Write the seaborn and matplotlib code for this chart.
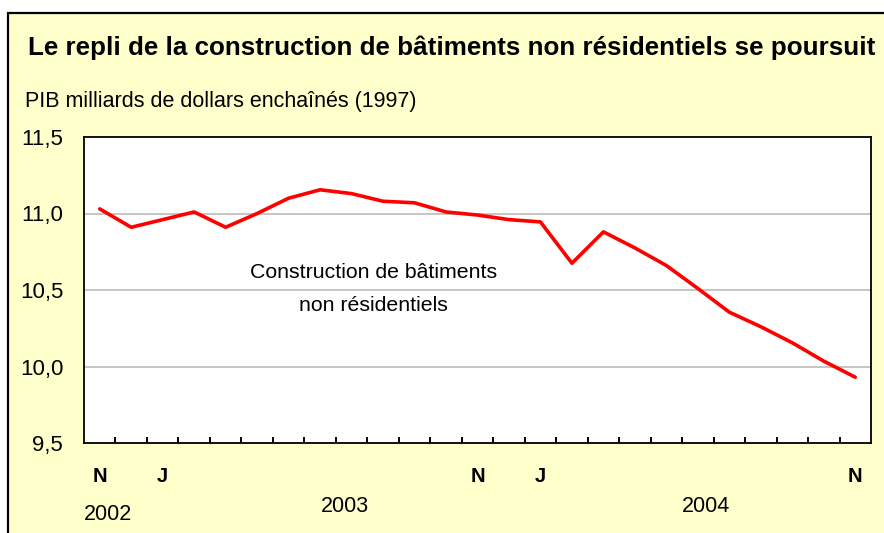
import matplotlib
matplotlib.use("Agg")
import matplotlib.pyplot as plt
import seaborn as sns
import pandas as pd
from matplotlib.patches import Rectangle

# Data: monthly GDP, Nov 2002 - Nov 2004
months = ["N", "D", "J", "F", "M", "A", "M", "J", "J", "A", "S", "O",
          "N", "D", "J", "F", "M", "A", "M", "J", "J", "A", "S", "O", "N"]
gdp = [11.03, 10.91, 10.96, 11.01, 10.91, 11.00, 11.10, 11.155, 11.13, 11.08,
       11.07, 11.01, 10.99, 10.96, 10.945, 10.675, 10.88, 10.775, 10.66, 10.51,
       10.355, 10.26, 10.155, 10.035, 9.93]
shown_months = [0, 2, 12, 14, 24]
years = ["2002", "2003", "2004"]
y_ticks = [9.5, 10.0, 10.5, 11.0, 11.5]
y_labels = ["9,5", "10,0", "10,5", "11,0", "11,5"]

df = pd.DataFrame({"idx": range(len(gdp)), "gdp": gdp})

sns.set_style("white")
plt.rcParams["font.family"] = ["Liberation Sans", "DejaVu Sans"]
plt.rcParams["text.color"] = "black"
plt.rcParams["xtick.color"] = "black"
plt.rcParams["ytick.color"] = "black"

fig = plt.figure(figsize=(8.84, 5.33), dpi=100)
fig.patch.set_facecolor("white")

# yellow framed panel
W, H = 884, 533
fig.patches.append(Rectangle((8 / W, -0.1), 1.2, (H - 13) / H + 0.1,
                             transform=fig.transFigure, facecolor="#FFFFCC",
                             edgecolor="black", linewidth=1.6, zorder=-10))

ax = fig.add_axes([84 / W, 1 - 443 / H, (871 - 84) / W, (443 - 137) / H])
ax.set_zorder(5)
ax.set_facecolor("white")

sns.lineplot(data=df, x="idx", y="gdp", color="#FF0000", linewidth=2.6, ax=ax)

ax.set_xlim(-0.5, len(gdp) - 0.5)
ax.set_ylim(9.5, 11.5)
ax.set_yticks(y_ticks)
ax.set_yticklabels(y_labels, fontsize=16)
for y in y_ticks[1:-1]:
    ax.axhline(y, color="#C0C0C0", linewidth=1.3, zorder=0)

ax.set_xticks(shown_months)
ax.set_xticklabels([months[i] for i in shown_months], fontsize=14.5, fontweight="bold")
ax.set_xticks([i + 0.5 for i in range(len(gdp) - 1)], minor=True)
ax.tick_params(axis="x", which="major", bottom=True, length=0, pad=17)
ax.tick_params(axis="x", which="minor", bottom=True, direction="in",
               length=4.5, width=1.4, color="black")
ax.tick_params(axis="y", length=0, pad=15)
ax.set_xlabel("")
ax.set_ylabel("")

for s in ax.spines.values():
    s.set_color("black")
    s.set_linewidth(1.3)

ax.text(8.7, 10.505, "Construction de bâtiments\nnon résidentiels", ha="center",
        va="center", fontsize=15.3, linespacing=1.95)

fig.text(28 / W, 1 - 48 / H, "Le repli de la construction de bâtiments non résidentiels se poursuit",
         fontsize=18.7, fontweight="bold", ha="left", va="center")
fig.text(25 / W, 1 - 101 / H, "PIB milliards de dollars enchaînés (1997)",
         fontsize=15.5, ha="left", va="center")

fig.text(84 / W, 1 - 515 / H, years[0], fontsize=15.5, ha="left", va="center")
fig.text(345 / W, 1 - 507 / H, years[1], fontsize=15.5, ha="center", va="center")
fig.text(706 / W, 1 - 507 / H, years[2], fontsize=15.5, ha="center", va="center")

fig.savefig("out.png", dpi=100)
